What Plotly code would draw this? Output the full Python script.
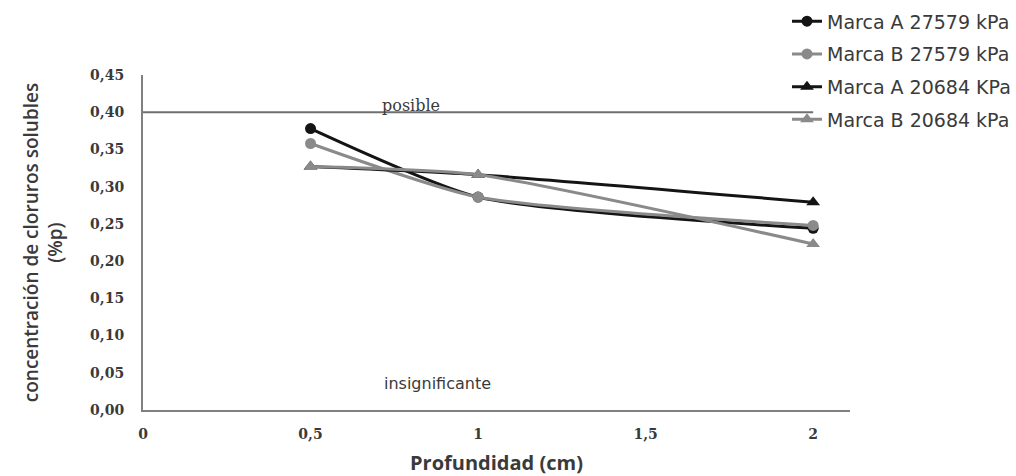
import plotly.graph_objects as go

profundidad = [0.5, 1, 2]
marca_a_27579 = [0.378, 0.286, 0.244]
marca_b_27579 = [0.358, 0.286, 0.248]
marca_a_20684 = [0.327, 0.316, 0.279]
marca_b_20684 = [0.327, 0.316, 0.223]
umbral_x = [0, 2]
umbral_y = [0.40, 0.40]
y_ticks = [0, 0.05, 0.10, 0.15, 0.20, 0.25, 0.30, 0.35, 0.40, 0.45]
y_labels = ["0,00", "0,05", "0,10", "0,15", "0,20", "0,25", "0,30", "0,35", "0,40", "0,45"]
x_ticks = [0, 0.5, 1, 1.5, 2]
x_labels = ["0", "0,5", "1", "1,5", "2"]

BLACK = "#141414"
GRAY = "#8a8a8a"
TXT = "#3a3a3a"

fig = go.Figure()

fig.add_trace(go.Scatter(x=umbral_x, y=umbral_y, mode="lines",
                         line=dict(color="#6f6f6f", width=2),
                         showlegend=False, hoverinfo="skip"))

series = [
    ("Marca A 27579 kPa", marca_a_27579, BLACK, "circle", 11),
    ("Marca B 27579 kPa", marca_b_27579, GRAY, "circle", 11),
    ("Marca A 20684 KPa", marca_a_20684, BLACK, "triangle-up", 12),
    ("Marca B 20684 kPa", marca_b_20684, GRAY, "triangle-up", 12),
]
for i, (name, vals, col, sym, sz) in enumerate(series):
    fig.add_trace(go.Scatter(
        x=profundidad, y=vals, name=name, mode="lines+markers",
        line=dict(color=col, width=3, shape="spline", smoothing=0.6),
        marker=dict(color=col, symbol=sym, size=sz),
        legendgroup=f"g{i}",
    ))

fig.add_annotation(x=0.80, y=0.40, text="posible", showarrow=False,
                   yanchor="bottom", yshift=-5,
                   font=dict(family="DejaVu Serif", size=16, color=TXT))
fig.add_annotation(x=0.88, y=0.036, text="insignificante", showarrow=False,
                   font=dict(family="DejaVu Sans", size=16, color=TXT))

fig.update_layout(
    width=1016, height=476,
    margin=dict(l=143, r=166, t=75, b=66, autoexpand=False),
    paper_bgcolor="white", plot_bgcolor="white",
    showlegend=True,
    legend=dict(x=1.0, y=0.995, xref="container", yref="container",
                xanchor="right", yanchor="top",
                font=dict(family="DejaVu Sans", size=19, color=TXT),
                tracegroupgap=5, traceorder="grouped",
                bgcolor="rgba(0,0,0,0)"),
    xaxis=dict(range=[0, 2.11], tickvals=x_ticks, ticktext=x_labels,
               showgrid=False, zeroline=False, showline=True,
               linecolor="#808080", linewidth=2, ticks="",
               ticklabelstandoff=10,
               tickfont=dict(family="DejaVu Serif", size=14, color=TXT, weight="bold"),
               title=dict(text="<b>Profundidad (cm)</b>", standoff=16,
                          font=dict(family="Open Sans", size=20, color=TXT))),
    yaxis=dict(range=[0, 0.45], tickvals=y_ticks, ticktext=y_labels,
               showgrid=False, zeroline=False, showline=True,
               linecolor="#808080", linewidth=2, ticks="",
               ticklabelstandoff=14,
               tickfont=dict(family="DejaVu Serif", size=14, color=TXT, weight="bold"),
               title=dict(text="concentración de cloruros solubles<br>(%p)", standoff=22,
                          font=dict(family="Open Sans", size=19, color=TXT, weight=600))),
)

fig.write_html("out.html")
